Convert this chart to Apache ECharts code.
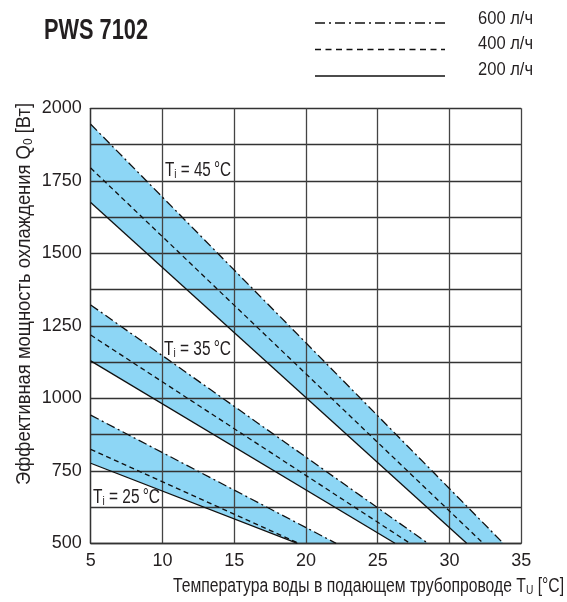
<!DOCTYPE html>
<html>
<head>
<meta charset="utf-8">
<script src="https://cdn.jsdelivr.net/npm/echarts@6/dist/echarts.min.js"></script>
<style>html,body{margin:0;padding:0;background:#fff}#c{width:567px;height:602px}</style>
</head>
<body>
<div id="c"></div>
<script>
// ---- data ----
const xTicks = [5, 10, 15, 20, 25, 30, 35];
const yLabels = [500, 750, 1000, 1250, 1500, 1750, 2000];
const flowNames = ['600 л/ч', '400 л/ч', '200 л/ч'];
const tiLabels = ['45', '35', '25'];
// [temperature, cooling power] end points of each line
const T45_600 = [[5, 1945], [33.75, 500]];
const T45_400 = [[5, 1794], [32.35, 500]];
const T45_200 = [[5, 1675], [31.2, 500]];
const T35_600 = [[5, 1322], [28.5, 500]];
const T35_400 = [[5, 1218], [27.25, 500]];
const T35_200 = [[5, 1129], [26.2, 500]];
const T25_600 = [[5, 942], [22.1, 500]];
const T25_400 = [[5, 824], [19.5, 500]];
const T25_200 = [[5, 776], [19.4, 500]];

const groups = [
  [T45_600, T45_400, T45_200],
  [T35_600, T35_400, T35_200],
  [T25_600, T25_400, T25_200]
];

const FONT = "'Liberation Sans', Arial, 'DejaVu Sans', sans-serif";
const TXT = '#231f20';
const dashTypes = [[9, 3.5, 2, 3.5], [5, 3.5], 'solid'];

// text measuring (used to condense texts to the reference widths)
const mctx = document.createElement('canvas').getContext('2d');
function textWidth(s, size, weight) {
  mctx.font = (weight || 'normal') + ' ' + size + 'px ' + FONT;
  return mctx.measureText(s).width;
}
function subText(main, s, rest, size, targetW) {
  const ss = Math.round(size * 0.65);
  const w = textWidth(main, size) + textWidth(s, ss) + textWidth(rest, size);
  return {
    scaleX: targetW / w,
    style: {
      text: '{a|' + main + '}{s|' + s + '}{a|' + rest + '}',
      rich: {
        a: {fontSize: size, fontFamily: FONT, fill: TXT},
        s: {fontSize: ss, fontFamily: FONT, fill: TXT, padding: [Math.round(size * 0.45), 0, 0, 0]}
      }
    }
  };
}
function plainText(s, size, targetW, weight) {
  return {
    scaleX: targetW / textWidth(s, size, weight),
    style: {text: s, fontSize: size, fontFamily: FONT, fontWeight: weight || 'normal', fill: TXT}
  };
}
function textEl(x, y, part, align, extra) {
  const el = Object.assign({type: 'text', x: x, y: y, z: 10}, part, extra || {});
  el.style = Object.assign({}, part.style, {align: align || 'left', verticalAlign: 'middle'});
  return el;
}

const chart = echarts.init(document.getElementById('c'), null, {renderer: 'canvas'});

const series = [];
// blue bands between 600 l/h and 200 l/h lines
series.push({
  type: 'custom',
  z: 0,
  silent: true,
  clip: true,
  data: groups.map(g => [g[0][0][0], g[0][0][1]]),
  renderItem: function (params, api) {
    const g = groups[params.dataIndex];
    const up = g[0], lo = g[2];
    const pts = [up[0], up[1], lo[1], lo[0]].map(p => api.coord(p));
    return {
      type: 'polygon',
      shape: {points: pts},
      style: {fill: '#8dd6f5', stroke: 'none'}
    };
  }
});
groups.forEach(g => {
  g.forEach((line, k) => {
    series.push({
      type: 'line',
      name: flowNames[k],
      data: line,
      z: 3,
      symbol: 'none',
      silent: true,
      clip: true,
      color: '#111',
      lineStyle: {color: '#111', width: 1.3, type: dashTypes[k]}
    });
  });
});

// legend drawn as graphic samples
const legendY = [23, 49.5, 76];
const legendTextY = [19, 44, 70];
const legendEls = [];
flowNames.forEach((n, k) => {
  legendEls.push({
    type: 'line', z: 10,
    shape: {x1: 315, y1: legendY[k], x2: 445, y2: legendY[k]},
    style: {stroke: '#111', lineWidth: 1.6, lineDash: k === 2 ? null : (k === 0 ? [10, 4, 2, 4] : [6, 4.5])}
  });
  legendEls.push(textEl(478, legendTextY[k], plainText(n, 18, 55)));
});

chart.setOption({
  animation: false,
  backgroundColor: '#fff',
  grid: {left: 90.7, right: 45.8, top: 108.3, bottom: 58.7, containLabel: false},
  xAxis: {
    type: 'value',
    min: xTicks[0],
    max: xTicks[xTicks.length - 1],
    interval: 5,
    z: 1,
    axisLine: {show: true, lineStyle: {color: '#333', width: 1.3}},
    axisTick: {show: false},
    splitLine: {show: true, lineStyle: {color: '#444', width: 1.3}},
    axisLabel: {fontFamily: FONT, fontSize: 18, color: TXT, margin: 9}
  },
  yAxis: {
    type: 'value',
    min: yLabels[0],
    max: yLabels[yLabels.length - 1],
    interval: 125,
    z: 1,
    axisLine: {show: true, lineStyle: {color: '#333', width: 1.3}},
    axisTick: {show: false},
    splitLine: {show: true, lineStyle: {color: '#333', width: 1.3}},
    axisLabel: {
      fontFamily: FONT, fontSize: 18, color: TXT, margin: 9,
      formatter: v => (yLabels.indexOf(v) >= 0 ? String(v) : '')
    }
  },
  series: series,
  graphic: [
    textEl(44, 31, plainText('PWS 7102', 30, 104, 'bold')),
    textEl(165, 170, subText('T', 'i', ' = ' + tiLabels[0] + '\u2009°C', 20, 66)),
    textEl(164, 349, subText('T', 'i', ' = ' + tiLabels[1] + '\u2009°C', 20, 67)),
    textEl(93, 497, subText('T', 'i', ' = ' + tiLabels[2] + '\u2009°C', 20, 67)),
    textEl(564, 586, subText('Температура воды в подающем трубопроводе T', 'U', ' [°C]', 20, 391), 'right'),
    textEl(24, 103, subText('Эффективная мощность охлаждения Q', '0', ' [Вт]', 20, 382), 'right', {rotation: Math.PI / 2})
  ].concat(legendEls)
});
</script>
</body>
</html>
